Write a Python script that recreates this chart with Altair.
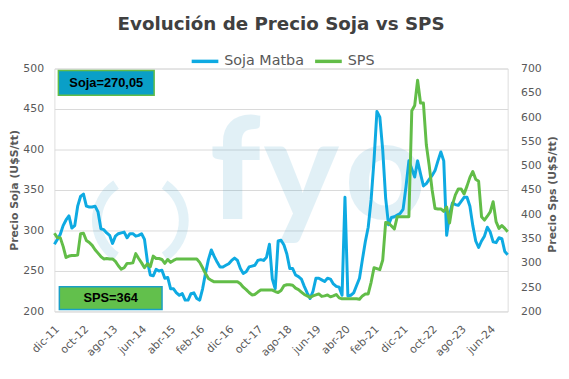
import altair as alt
import pandas as pd

BLUE = "#0eaae2"
GREEN = "#62bd48"
GREY = "#595959"

x_labels = ["dic-11", "oct-12", "ago-13", "jun-14", "abr-15", "feb-16", "dic-16", "oct-17",
            "ago-18", "jun-19", "abr-20", "feb-21", "dic-21", "oct-22", "ago-23", "jun-24"]

soja = [283, 289, 295, 306, 313, 318, 303, 306, 330, 342, 345, 330, 329, 329, 330, 323,
        302, 301, 297, 294, 284, 293, 296, 297, 298, 291, 296, 296, 293, 294, 296, 289,
        262, 245, 244, 252, 250, 251, 241, 242, 228, 228, 223, 220, 222, 214, 214, 222,
        223, 216, 214, 228, 247, 264, 276, 268, 261, 255, 255, 257, 259, 263, 266, 263,
        253, 247, 249, 255, 256, 257, 263, 264, 263, 267, 283, 240, 228, 287, 288, 282,
        271, 253, 253, 245, 243, 240, 231, 223, 216, 225, 241, 241, 239, 237, 241, 240,
        234, 231, 230, 220, 341, 219, 220, 223, 232, 241, 264, 286, 304, 338, 387, 447,
        440, 399, 340, 307, 316, 317, 319, 321, 326, 354, 386, 376, 366, 386, 370, 355,
        358, 363, 368, 374, 386, 397, 386, 294, 320, 334, 332, 331, 336, 341, 341, 330,
        306, 287, 279, 287, 293, 304, 298, 286, 285, 291, 290, 274, 270.05]

sps = [361, 352, 352, 334, 311, 314, 315, 315, 316, 360, 361, 346, 342, 336, 327, 320,
       313, 308, 309, 308, 308, 303, 294, 287, 290, 299, 299, 300, 319, 309, 300, 290,
       298, 292, 314, 309, 309, 307, 299, 307, 301, 305, 308, 308, 308, 308, 308, 308,
       308, 308, 301, 290, 278, 268, 264, 261, 261, 261, 261, 261, 261, 261, 261, 261,
       257, 250, 245, 239, 234, 235, 240, 244, 244, 244, 244, 244, 241, 239, 243, 253,
       255, 255, 254, 248, 245, 240, 235, 232, 229, 232, 234, 236, 231, 232, 234, 230,
       232, 235, 228, 226, 226, 226, 226, 226, 226, 225, 232, 236, 236, 260, 290, 288,
       286, 306, 383, 382, 376, 370, 395, 395, 395, 395, 395, 613, 624, 676, 629, 629,
       543, 500, 450, 412, 411, 411, 406, 415, 382, 420, 440, 452, 452, 442, 458, 476,
       488, 472, 468, 395, 388, 396, 405, 426, 385, 371, 377, 371, 364]

series = ["Soja Matba", "SPS"]
n = len(soja)
df = pd.DataFrame({
    "mes": list(range(n)) * 2,
    "serie": [series[0]] * n + [series[1]] * n,
    "valor": soja + sps,
})

soja_text = "Soja=" + f"{soja[-1]:.2f}".replace(".", ",")
sps_text = f"SPS={sps[-1]:.0f}"

label_expr = "[" + ",".join(f"'{l}'" for l in x_labels) + "][round(datum.value/10)]"

x_enc = alt.X(
    "mes:Q",
    scale=alt.Scale(domain=[0, n - 1], nice=False, zero=False),
    axis=alt.Axis(values=list(range(0, 10 * len(x_labels), 10)), labelExpr=label_expr,
                  labelAngle=-45, labelAlign="right", labelBaseline="middle",
                  labelPadding=16, labelOffset=3, labelOverlap=False, labelBound=False,
                  ticks=False, grid=False, domain=False,
                  title=None, labelFontSize=11, labelColor=GREY, labelFont="DejaVu Sans"),
)

color_enc = alt.Color(
    "serie:N",
    scale=alt.Scale(domain=series, range=[BLUE, GREEN]),
    legend=alt.Legend(orient="none", legendX=137, legendY=-23, direction="horizontal",
                      title=None, symbolType="stroke", symbolSize=729, symbolStrokeWidth=3.5,
                      labelFontSize=14.5, labelFont="DejaVu Sans", labelColor=GREY,
                      labelOffset=4, columnPadding=4, padding=0),
)

one = pd.DataFrame({"k": [0]})
WM = "#148cbe"
WM_OP = 0.12

wm_left = alt.Chart(one).mark_arc(radius=49, radius2=39, theta=3.735, theta2=5.69,
                                  color=WM, opacity=WM_OP).encode(x=alt.value(87), y=alt.value(154))
wm_right = alt.Chart(one).mark_arc(radius=49, radius2=39, theta=0.593, theta2=2.548,
                                   color=WM, opacity=WM_OP).encode(x=alt.value(87), y=alt.value(154))
wm_f = alt.Chart(one).mark_text(text="f", font="Lato", fontSize=142, fontWeight=900,
                                color=WM, opacity=WM_OP, baseline="alphabetic").encode(
    x=alt.value(183), y=alt.value(152))
wm_y = alt.Chart(one).mark_text(text="y", font="Lato", fontSize=142, fontWeight=900,
                                color=WM, opacity=WM_OP, baseline="alphabetic").encode(
    x=alt.value(250), y=alt.value(152))
wm_o = alt.Chart(one).mark_text(text="o", font="Lato", fontSize=142, fontWeight=900,
                                color=WM, opacity=WM_OP, baseline="alphabetic").encode(
    x=alt.value(335), y=alt.value(152))

soja_line = alt.Chart(df).transform_filter(alt.datum.serie == series[0]).mark_line(
    strokeWidth=3, strokeJoin="round").encode(
    x=x_enc,
    y=alt.Y("valor:Q", scale=alt.Scale(domain=[200, 500], nice=False, zero=False),
            axis=alt.Axis(orient="left", values=list(range(200, 501, 50)), ticks=False,
                          domain=False, grid=True, gridColor="#d9d9d9", labelPadding=11,
                          labelFontSize=11, labelColor=GREY, labelFont="DejaVu Sans",
                          title="Precio Soja (U$S/tt)", titleFont="DejaVu Sans",
                          titleFontSize=11, titleFontWeight="bold", titleColor=GREY,
                          titleX=-40.5, titleY=123, titleAngle=270, titleAlign="center",
                          titleBaseline="middle")),
    color=color_enc,
)

sps_line = alt.Chart(df).transform_filter(alt.datum.serie == series[1]).mark_line(
    strokeWidth=3, strokeJoin="round").encode(
    x=x_enc,
    y=alt.Y("valor:Q", scale=alt.Scale(domain=[200, 700], nice=False, zero=False),
            axis=alt.Axis(orient="right", values=list(range(200, 701, 50)), ticks=False,
                          domain=False, grid=False, labelPadding=13,
                          labelFontSize=11, labelColor=GREY, labelFont="DejaVu Sans",
                          title="Precio Sps (U$S/tt)", titleFont="DejaVu Sans",
                          titleFontSize=11, titleFontWeight="bold", titleColor=GREY,
                          titleX=45, titleY=127, titleAngle=270, titleAlign="center",
                          titleBaseline="middle")),
    color=color_enc,
)

box_soja = alt.Chart(one).mark_rect(fill="#0a9fc7", stroke=GREEN, strokeWidth=1.5).encode(
    x=alt.value(4), x2=alt.value(101), y=alt.value(2), y2=alt.value(27))
txt_soja = alt.Chart(one).mark_text(text=soja_text, font="Liberation Sans", fontSize=13,
                                    fontWeight="bold", color="#000000").encode(
    x=alt.value(52.5), y=alt.value(14.5))
box_sps = alt.Chart(one).mark_rect(fill="#62c04c", stroke="#1a9fc6", strokeWidth=1.5).encode(
    x=alt.value(5), x2=alt.value(109), y=alt.value(221), y2=alt.value(244))
txt_sps = alt.Chart(one).mark_text(text=sps_text, font="Liberation Sans", fontSize=13,
                                   fontWeight="bold", color="#000000").encode(
    x=alt.value(57), y=alt.value(232.5))

chart = alt.layer(
    wm_left, wm_right, wm_f, wm_y, wm_o,
    soja_line, sps_line,
    box_soja, txt_soja, box_sps, txt_sps,
).resolve_scale(y="independent").properties(
    width=459, height=246,
    padding={"left": 47, "top": 59, "right": 54, "bottom": 58},
    autosize=alt.AutoSizeParams(type="none"),
    title=alt.Title("Evolución de Precio Soja vs SPS", font="DejaVu Sans", fontSize=18.5,
                    fontWeight="bold", color="#404040", anchor="middle", frame="group",
                    offset=13),
).configure_view(stroke="#bfbfbf", strokeWidth=1).configure(background="white")

chart.save("out.html", embed_options={"renderer": "svg", "actions": False})
